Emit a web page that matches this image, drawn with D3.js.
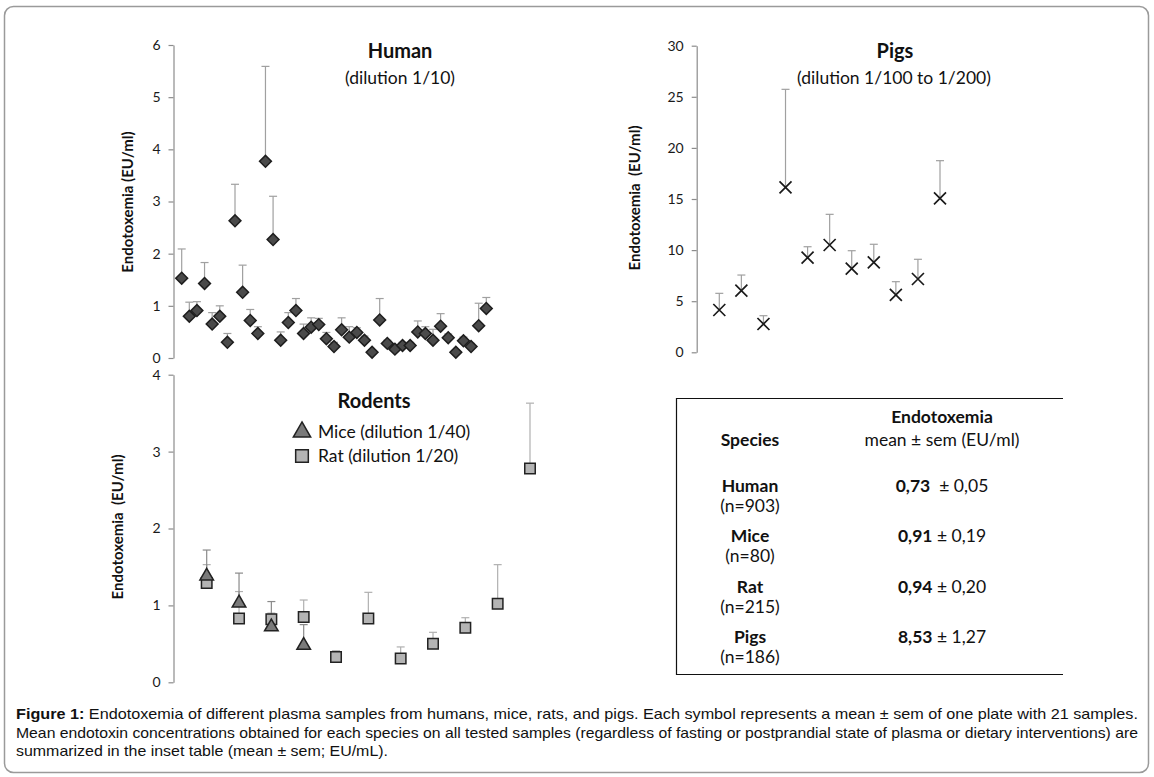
<!DOCTYPE html>
<html><head><meta charset="utf-8">
<script src="https://cdn.jsdelivr.net/npm/d3@7"></script>
<style>
body{margin:0;background:#fff;}
svg{display:block;}
</style></head>
<body>
<svg id="c" width="1154" height="777"></svg>
<script>
// ---------- DATA ----------
const humanMean = [1.53,0.80,0.91,1.43,0.65,0.80,0.30,2.63,1.26,0.72,0.47,3.77,2.27,0.34,0.68,0.91,0.47,0.59,0.64,0.37,0.22,0.54,0.40,0.49,0.34,0.11,0.73,0.28,0.17,0.24,0.24,0.50,0.47,0.34,0.61,0.39,0.11,0.33,0.22,0.62,0.95];
const humanErr  = [2.09,1.07,1.08,1.83,0.87,1.00,0.47,3.33,1.78,0.93,0.60,5.59,3.10,0.50,0.87,1.14,0.65,0.77,0.76,0.49,0.30,0.77,0.60,0.58,0.42,0.16,1.14,0.34,0.22,0.30,0.30,0.71,0.60,0.55,0.85,0.46,0.16,0.40,0.28,1.05,1.16];
const pigsMean = [4.14,6.03,2.77,16.14,9.26,10.50,8.18,8.80,5.61,7.17,15.07];
const pigsErr  = [5.77,7.56,3.58,25.73,10.33,13.50,9.94,10.57,6.91,9.10,18.75];
const miceMean = [1.38,1.03,0.72,0.48];
const miceErr  = [1.72,1.42,1.05,0.75];
const ratMean  = [1.29,0.83,0.82,0.85,0.33,0.83,0.31,0.50,0.71,1.02,2.78];
const ratErr   = [1.53,1.18,0.90,1.07,0.41,1.17,0.46,0.65,0.84,1.53,3.63];
const humanTicks = [0,1,2,3,4,5,6];
const pigsTicks = [0,5,10,15,20,25,30];
const rodentTicks = [0,1,2,3,4];
const tableSpecies = ["Human","Mice","Rat","Pigs"];
const tableN = ["(n=903)","(n=80)","(n=215)","(n=186)"];
const tableMean = ["0,73","0,91","0,94","8,53"];
const tableSem = ["  ± 0,05"," ± 0,19"," ± 0,20"," ± 1,27"];
const captionLines = [
  ["Figure 1:", " Endotoxemia of different plasma samples from humans, mice, rats, and pigs. Each symbol represents a mean ± sem of one plate with 21 samples."],
  ["", "Mean endotoxin concentrations obtained for each species on all tested samples (regardless of fasting or postprandial state of plasma or dietary interventions) are"],
  ["", "summarized in the inset table (mean ± sem; EU/mL)."]
];
const captionWidths = [1122, 1122, 372];

// ---------- DRAW ----------
const svg = d3.select("#c");
const FONT = "Lato, 'Open Sans', sans-serif";

svg.append("rect").attr("x",4.5).attr("y",6.5).attr("width",1144).attr("height",766)
  .attr("rx",9).attr("fill","none").attr("stroke","#9a9a9a").attr("stroke-width",1.5);

function yAxis(g, y, ticks, x0){
  const ax = d3.axisLeft(y).tickValues(ticks).tickFormat(d3.format("d")).tickSize(5).tickSizeOuter(0).tickPadding(8);
  const gg = g.append("g").attr("transform",`translate(${x0},0)`).call(ax);
  gg.select(".domain").attr("stroke","#8c8c8c").attr("stroke-width",1.2);
  gg.selectAll(".tick line").attr("stroke","#8c8c8c").attr("stroke-width",1.2);
  gg.selectAll(".tick text").attr("fill","#1a1a1a").attr("font-family",FONT).attr("font-size",14);
}
function errBars(g, xs, y, mean, err, col){
  mean.forEach((m,i)=>{
    const x = xs(i);
    g.append("line").attr("x1",x).attr("x2",x).attr("y1",y(m)).attr("y2",y(err[i]))
      .attr("stroke",col).attr("stroke-width",1.2);
    g.append("line").attr("x1",x-4).attr("x2",x+4).attr("y1",y(err[i])).attr("y2",y(err[i]))
      .attr("stroke",col).attr("stroke-width",1.2);
  });
}
function ylabel(x, yc, txt){
  svg.append("text").attr("transform",`translate(${x},${yc}) rotate(-90)`)
    .attr("text-anchor","middle").attr("font-family",FONT).attr("font-weight","bold")
    .attr("font-size",15).attr("fill","#111").attr("xml:space","preserve").text(txt);
}
function title(x, y, txt, bold, size){
  svg.append("text").attr("x",x).attr("y",y).attr("text-anchor","middle")
    .attr("font-family",FONT).attr("font-weight",bold?"bold":"normal")
    .attr("font-size",size).attr("fill","#111").text(txt);
}

// Human
{
  const g = svg.append("g");
  const y = d3.scaleLinear().domain([0,6]).range([358,45]);
  const x = d3.scaleLinear().domain([0,humanMean.length-1]).range([181.7,486.3]);
  yAxis(g, y, humanTicks, 173.5);
  errBars(g, x, y, humanMean, humanErr, "#a0a0a0");
  g.selectAll("path.d").data(humanMean).join("path")
    .attr("d", d3.symbol(d3.symbolSquare, 70)())
    .attr("transform",(d,i)=>`translate(${x(i)},${y(d)}) rotate(45)`)
    .attr("fill","#4a4a4a").attr("stroke","#1e1e1e").attr("stroke-width",1.5);
  title(400, 58, "Human", true, 20);
  title(400, 84, "(dilution 1/10)", false, 17.5);
  ylabel(133, 202, "Endotoxemia (EU/ml)");
}
// Pigs
{
  const g = svg.append("g");
  const y = d3.scaleLinear().domain([0,30]).range([352.3,45.7]);
  const x = d3.scaleLinear().domain([0,pigsMean.length-1]).range([719.3,940]);
  yAxis(g, y, pigsTicks, 696.7);
  errBars(g, x, y, pigsMean, pigsErr, "#a0a0a0");
  const s = 6;
  pigsMean.forEach((d,i)=>{
    const cx = x(i), cy = y(d);
    g.append("path").attr("d",`M${cx-s},${cy-s}L${cx+s},${cy+s}M${cx-s},${cy+s}L${cx+s},${cy-s}`)
      .attr("stroke","#1a1a1a").attr("stroke-width",1.7).attr("fill","none");
  });
  title(895, 58, "Pigs", true, 20);
  title(894, 84, "(dilution 1/100 to 1/200)", false, 17.5);
  ylabel(640, 198, "Endotoxemia  (EU/ml)");
}
// Rodents
{
  const g = svg.append("g");
  const y = d3.scaleLinear().domain([0,4]).range([682.3,374.7]);
  const x = d3.scaleLinear().domain([0,ratMean.length-1]).range([206.7,530]);
  yAxis(g, y, rodentTicks, 173.5);
  errBars(g, x, y, ratMean, ratErr, "#b0b0b0");
  errBars(g, x, y, miceMean, miceErr, "#8a8a8a");
  g.selectAll("path.r").data(ratMean).join("path")
    .attr("d", d3.symbol(d3.symbolSquare, 110)())
    .attr("transform",(d,i)=>`translate(${x(i)},${y(d)})`)
    .attr("fill","#b4b4b4").attr("stroke","#222").attr("stroke-width",1.5);
  g.selectAll("path.m").data(miceMean).join("path")
    .attr("d", d3.symbol(d3.symbolTriangle, 80)())
    .attr("transform",(d,i)=>`translate(${x(i)},${y(d)})`)
    .attr("fill","#7a7a7a").attr("stroke","#222").attr("stroke-width",1.5);
  title(374, 408, "Rodents", true, 20);
  // legend
  g.append("path").attr("d", d3.symbol(d3.symbolTriangle, 130)())
    .attr("transform","translate(302,432)").attr("fill","#7a7a7a").attr("stroke","#222").attr("stroke-width",1.5);
  g.append("path").attr("d", d3.symbol(d3.symbolSquare, 160)())
    .attr("transform","translate(302,456)").attr("fill","#b4b4b4").attr("stroke","#222").attr("stroke-width",1.5);
  g.append("text").attr("x",318).attr("y",438).attr("font-family",FONT).attr("font-size",17.5).attr("fill","#111").text("Mice (dilution 1/40)");
  g.append("text").attr("x",318).attr("y",462).attr("font-family",FONT).attr("font-size",17.5).attr("fill","#111").text("Rat (dilution 1/20)");
  ylabel(123, 527, "Endotoxemia  (EU/ml)");
}
// Table
{
  const g = svg.append("g");
  g.append("line").attr("x1",676).attr("x2",1063).attr("y1",398.5).attr("y2",398.5).attr("stroke","#111").attr("stroke-width",1.2);
  g.append("line").attr("x1",676).attr("x2",1063).attr("y1",674.5).attr("y2",674.5).attr("stroke","#111").attr("stroke-width",1.2);
  g.append("line").attr("x1",676.5).attr("x2",676.5).attr("y1",398).attr("y2",675).attr("stroke","#111").attr("stroke-width",1.2);
  const t = (x,y,txt,b)=>g.append("text").attr("x",x).attr("y",y).attr("text-anchor","middle")
    .attr("font-family",FONT).attr("font-size",17.5).attr("font-weight",b?"bold":"normal").attr("fill","#111")
    .attr("xml:space","preserve").text(txt);
  t(750,446,"Species",true);
  t(942,423,"Endotoxemia",true);
  t(942,446,"mean ± sem (EU/ml)",false);
  tableSpecies.forEach((s,i)=>{
    const by = 492 + i*50.3;
    t(750, by, s, true);
    t(750, by+20, tableN[i], false);
    const tx = g.append("text").attr("x",942).attr("y",by).attr("text-anchor","middle")
      .attr("font-family",FONT).attr("font-size",17.5).attr("fill","#111").attr("xml:space","preserve");
    tx.append("tspan").attr("font-weight","bold").text(tableMean[i]);
    tx.append("tspan").text(tableSem[i]);
  });
}
// Caption
{
  const g = svg.append("g");
  captionLines.forEach((ln,i)=>{
    const tx = g.append("text").attr("x",16).attr("y",719 + i*18.5)
      .attr("font-family","'Liberation Sans Narrow', 'Liberation Sans', Arial, sans-serif").attr("font-size",14.5).attr("fill","#111")
      .attr("xml:space","preserve")
      .attr("textLength",captionWidths[i]).attr("lengthAdjust","spacingAndGlyphs");
    if(ln[0]) tx.append("tspan").attr("font-weight","bold").text(ln[0]);
    tx.append("tspan").text(ln[1]);
  });
}
</script>
</body></html>
